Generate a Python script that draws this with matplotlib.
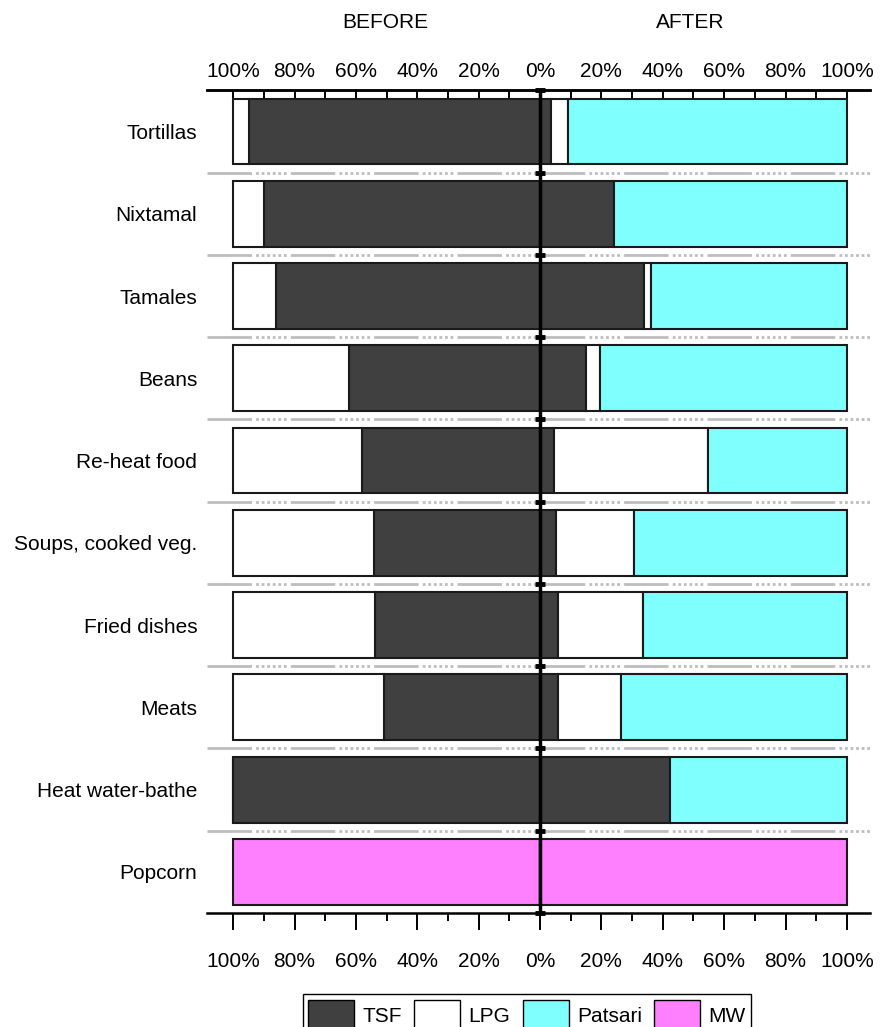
import matplotlib.pyplot as plt
from matplotlib.patches import Patch

plt.rcParams['font.family'] = ['Liberation Sans Narrow', 'Liberation Sans', 'DejaVu Sans']

# data (percent of households)
foods = ["Tortillas", "Nixtamal", "Tamales", "Beans", "Re-heat food",
         "Soups, cooked veg.", "Fried dishes", "Meats", "Heat water-bathe", "Popcorn"]

before_tsf = [95, 90, 86.2, 62.1, 57.9, 54.1, 53.7, 50.8, 100, 0]
before_lpg = [5, 10, 13.8, 37.9, 42.1, 45.9, 46.3, 49.2, 0, 0]
before_mw = [0, 0, 0, 0, 0, 0, 0, 0, 0, 100]

after_tsf = [3.5, 24.2, 33.8, 14.9, 4.5, 5.1, 5.9, 5.9, 42.3, 0]
after_lpg = [5.6, 0, 2.3, 4.5, 50.1, 25.6, 27.7, 20.6, 0, 0]
after_pat = [90.9, 75.8, 63.9, 80.6, 45.4, 69.3, 66.4, 73.5, 57.7, 0]
after_mw = [0, 0, 0, 0, 0, 0, 0, 0, 0, 100]

tick_vals = [-100, -80, -60, -40, -20, 0, 20, 40, 60, 80, 100]
tick_labels = ["100%", "80%", "60%", "40%", "20%", "0%", "20%", "40%", "60%", "80%", "100%"]

c_tsf = "#404040"
c_lpg = "#ffffff"
c_pat = "#80ffff"
c_mw = "#ff80ff"

####################################
#              plot                #
####################################
fig = plt.figure(figsize=(8.85, 10.27), dpi=100)
ax = fig.add_axes([0.234, 0.111, 0.749, 0.801])

ypos = list(range(len(foods)))
h = 0.8
ek = dict(edgecolor="#1a1a1a", linewidth=1.5, height=h, zorder=3)

# before side (negative)
neg_tsf = [-v for v in before_tsf]
neg_lpg = [-v for v in before_lpg]
neg_mw = [-v for v in before_mw]
ax.barh(ypos, neg_tsf, color=c_tsf, **ek)
ax.barh(ypos, neg_lpg, left=neg_tsf, color=c_lpg, **ek)
ax.barh(ypos, neg_mw, color=c_mw, **ek)

# after side
ax.barh(ypos, after_tsf, color=c_tsf, **ek)
ax.barh(ypos, after_lpg, left=after_tsf, color=c_lpg, **ek)
left2 = [a + b for a, b in zip(after_tsf, after_lpg)]
ax.barh(ypos, after_pat, left=left2, color=c_pat, **ek)
ax.barh(ypos, after_mw, color=c_mw, **ek)

ax.set_xlim(-108.5, 107.5)
ax.set_ylim(len(foods) - 0.5, -0.5)

# row separators
seps = [i + 0.5 for i in range(len(foods) - 1)]
for s in seps:
    ax.axhline(s, color="#bdbdbd", linewidth=2,
               linestyle=(0, (16, 1.5, 1, 1, 1, 1, 1, 1, 1, 1, 1, 1, 1, 1.5)), zorder=1)

# center line with little marks
ax.axvline(0, color="black", linewidth=2.5, zorder=5)
ax.plot([0] * (len(seps) + 2), [-0.5] + seps + [len(foods) - 0.5], linestyle="none",
        marker="_", markersize=7, markeredgewidth=3.5, color="black", zorder=6, clip_on=False)

for side in ["left", "right"]:
    ax.spines[side].set_visible(False)
ax.spines["bottom"].set_linewidth(1.8)
ax.spines["top"].set_linewidth(1.8)

ax.set_yticks(ypos)
ax.set_yticklabels(foods, fontsize=15)
ax.tick_params(axis="y", length=0, pad=7)

ax.set_xticks(tick_vals)
ax.set_xticklabels(tick_labels, fontsize=15)
ax.set_xticks(list(range(-90, 100, 20)), minor=True)
ax.tick_params(axis="x", which="major", direction="out", length=12, width=1.4, pad=16)
ax.tick_params(axis="x", which="minor", direction="out", length=6, width=1.4)

top = ax.secondary_xaxis("top")
top.set_xticks(tick_vals)
top.set_xticklabels(tick_labels, fontsize=15)
top.set_xticks(list(range(-90, 100, 20)), minor=True)
top.tick_params(axis="x", which="major", direction="in", length=12, width=1.4, pad=7)
top.tick_params(axis="x", which="minor", direction="in", length=6, width=1.4)
top.spines["top"].set_linewidth(1.8)

fig.text(385 / 885, 1 - 22 / 1027, "BEFORE", fontsize=15, ha="center", va="center")
fig.text(690 / 885, 1 - 22 / 1027, "AFTER", fontsize=15, ha="center", va="center")

handles = [Patch(facecolor=c_tsf, edgecolor="black", label="TSF"),
           Patch(facecolor=c_lpg, edgecolor="black", label="LPG"),
           Patch(facecolor=c_pat, edgecolor="black", label="Patsari"),
           Patch(facecolor=c_mw, edgecolor="black", label="MW")]
fig.legend(handles=handles, loc="upper center", bbox_to_anchor=(527 / 885, 1 - 984 / 1027),
           ncol=4, fontsize=15, frameon=True, fancybox=False, edgecolor="black",
           handlelength=2.2, handleheight=2.0, handletextpad=0.4, columnspacing=0.6,
           borderpad=0.25, framealpha=1)

plt.savefig("out.png", dpi=100)
plt.close()
